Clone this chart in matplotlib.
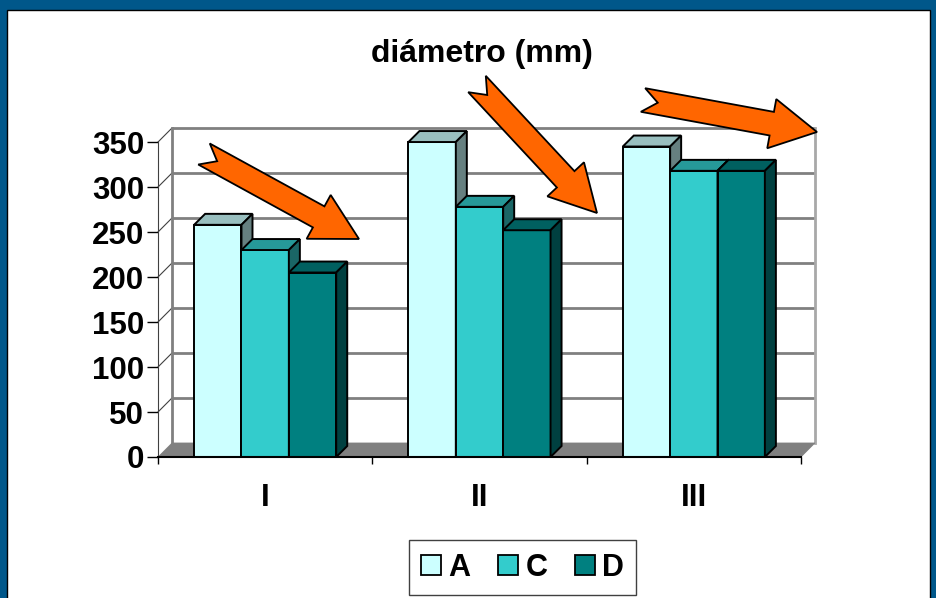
import matplotlib.pyplot as plt
import matplotlib.colors as mcolors
import numpy as np
from matplotlib.patches import Polygon, Rectangle, Patch

plt.rcParams['font.family'] = ['Liberation Sans', 'DejaVu Sans']
plt.rcParams['font.weight'] = 'bold'

# data
categories = ['I', 'II', 'III']
series_names = ['A', 'C', 'D']
values_a = [258, 350, 345]
values_c = [230, 278, 318]
values_d = [205, 252, 318]
yticks = [0, 50, 100, 150, 200, 250, 300, 350]
title = 'diámetro (mm)'

front_colors = ['#CCFFFF', '#33CCCC', '#008080']

# decorative arrows, (tail, tip) in pixels from top-left
arrows = [((204, 154), (359, 239)),
          ((477, 84), (597, 213)),
          ((643, 100), (817, 132))]

W, H = 937, 598

# pseudo 3d depth
wall_dx, wall_dy = 0.0654, 15.6
bar_dx, bar_dy = 0.0514, 12.2
bw = 0.221


def shade(color, f):
    r, g, b = mcolors.to_rgb(color)
    return (r * f, g * f, b * f)


fig = plt.figure(figsize=(W / 100, H / 100), dpi=100, facecolor='#00578A')
fig.add_artist(Rectangle((7 / W, -0.01), (930 - 7) / W, 1 - 10 / H + 0.01,
                         transform=fig.transFigure, facecolor='white',
                         edgecolor='black', lw=1, zorder=0))

ax = fig.add_axes([158 / W, 1 - 457 / H, (815 - 158) / W, (457 - 128) / H])
ax.patch.set_visible(False)
ax.set_xlim(-0.5, 2.5 + wall_dx)
ax.set_ylim(0, 350 + wall_dy)

# back wall + floor
x0, x1 = -0.5, 2.5
for v in yticks[1:]:
    ax.plot([x0 + wall_dx, x1 + wall_dx], [v + wall_dy] * 2, color='#808080',
            lw=2, zorder=1, clip_on=False, solid_capstyle='butt')
    ax.plot([x0, x0 + wall_dx], [v, v + wall_dy], color='#404040', lw=0.8,
            zorder=1, clip_on=False)
ax.plot([x0 + wall_dx] * 2, [wall_dy, 350 + wall_dy], color='#808080', lw=2,
        zorder=1, clip_on=False)
ax.plot([x1 + wall_dx] * 2, [wall_dy, 350 + wall_dy], color='#A8A8A8', lw=2,
        zorder=1, clip_on=False)
ax.add_patch(Polygon([(x0, 0), (x1, 0), (x1 + wall_dx, wall_dy),
                      (x0 + wall_dx, wall_dy)], closed=True,
                     facecolor='#808080', edgecolor='#808080', lw=0.5,
                     zorder=1.5))

# bars
x = np.arange(len(categories))
for i, (vals, col) in enumerate(zip([values_a, values_c, values_d], front_colors)):
    xs = x + (i - 1) * bw
    z = 3 + i
    ax.bar(xs, vals, bw, color=col, edgecolor='black', lw=1.4, zorder=z)
    for xc, v in zip(xs, vals):
        l, r = xc - bw / 2, xc + bw / 2
        top = [(l, v), (r, v), (r + bar_dx, v + bar_dy), (l + bar_dx, v + bar_dy)]
        side = [(r, 0), (r + bar_dx, bar_dy), (r + bar_dx, v + bar_dy), (r, v)]
        ax.add_patch(Polygon(top, closed=True, facecolor=shade(col, 0.75),
                             edgecolor='black', lw=1.4, zorder=z))
        ax.add_patch(Polygon(side, closed=True, facecolor=shade(col, 0.5),
                             edgecolor='black', lw=1.4, zorder=z))

# axes
for s in ['top', 'right']:
    ax.spines[s].set_visible(False)
ax.spines['left'].set_bounds(0, 350)
ax.spines['left'].set_color('#404040')
ax.spines['bottom'].set_bounds(x0, x1)
ax.spines['bottom'].set_linewidth(1.5)
ax.spines['bottom'].set_zorder(8)

ax.set_yticks(yticks)
ax.tick_params(axis='y', length=8, width=1, pad=2, labelsize=22.5)
ax.set_xticks([-0.5, 0.5, 1.5, 2.5])
ax.set_xticklabels([])
ax.tick_params(axis='x', which='major', length=5, width=1)
ax.set_xticks(x, minor=True)
ax.set_xticklabels(categories, minor=True)
ax.tick_params(axis='x', which='minor', length=0, pad=19, labelsize=22.5)

fig.text(482 / W, 1 - 54 / H, title, ha='center', va='center', fontsize=23,
         fontweight='bold')


def block_arrow(tail, tip, shaft=24, head=50, head_len=46, notch=15):
    tail = np.array(tail, float)
    tip = np.array(tip, float)
    u = tip - tail
    L = np.hypot(*u)
    u /= L
    n = np.array([-u[1], u[0]])
    local = [(0, shaft / 2), (L - head_len, shaft / 2), (L - head_len, head / 2),
             (L, 0), (L - head_len, -head / 2), (L - head_len, -shaft / 2),
             (0, -shaft / 2), (notch, 0)]
    pts = [tail + a * u + b * n for a, b in local]
    pts = [(px / W, 1 - py / H) for px, py in pts]
    fig.add_artist(Polygon(pts, closed=True, transform=fig.transFigure,
                           facecolor='#FF6600', edgecolor='black', lw=1.3,
                           zorder=10))


for tail, tip in arrows:
    block_arrow(tail, tip)

handles = [Patch(facecolor=c, edgecolor='black', lw=1.3) for c in front_colors]
fig.legend(handles, series_names, loc='center',
           bbox_to_anchor=(522.5 / W, 1 - 567.5 / H), ncol=3, frameon=True,
           fancybox=False, edgecolor='#404040', fontsize=22, handlelength=0.65,
           handleheight=0.65, handletextpad=0.25, columnspacing=0.9,
           borderpad=0.4, framealpha=1)

fig.savefig('out.png', dpi=100, facecolor=fig.get_facecolor())
